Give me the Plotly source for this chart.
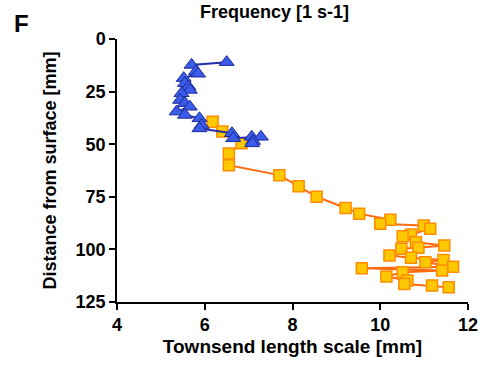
import plotly.graph_objects as go

# Blue series (triangles)
blue_x = [6.5, 5.7, 5.8, 5.85, 5.52, 5.55, 5.63, 5.66, 5.47, 5.44, 5.55, 5.66, 5.36, 5.55, 5.88, 5.93, 5.88, 6.62, 6.65, 7.07, 7.28, 7.1, 7.08]
blue_y = [11, 12.3, 15.4, 16.5, 18.6, 21, 22.6, 24.2, 25.8, 29, 30.5, 32.2, 34.5, 36.1, 37.7, 40.9, 42.5, 44.8, 47.2, 46.5, 46.5, 48.5, 49.6]

# Orange series (squares)
orange_x = [6.18, 6.4, 6.84, 6.55, 6.55, 7.7, 8.14, 8.55, 9.21, 9.52, 10.23, 10.0, 10.99, 11.14, 10.7, 10.51, 10.81, 11.46, 10.87, 10.48, 10.21, 10.7, 11.44, 11.03, 11.66, 9.58, 11.41, 10.51, 10.14, 10.62, 10.55, 11.18, 11.56]
orange_y = [39.3, 44, 49.6, 54.4, 60, 64.7, 70, 75, 80.3, 83, 85.9, 87.8, 88.6, 90.2, 92.9, 93.8, 96.6, 98.1, 99.2, 99.7, 102.9, 104, 105, 106.1, 108.2, 109, 110, 110.9, 112.9, 114.8, 116.4, 117.2, 118]

x_ticks = [4, 6, 8, 10, 12]
y_ticks = [0, 25, 50, 75, 100, 125]

FONT = "Arial, Liberation Sans, sans-serif"

fig = go.Figure()
fig.add_trace(go.Scatter(
    x=orange_x, y=orange_y, mode="lines+markers",
    line=dict(color="#FF6A10", width=2),
    marker=dict(symbol="square", size=11, color="#FFC800",
                line=dict(color="#FF8C00", width=1.5)),
    showlegend=False, cliponaxis=False))
fig.add_trace(go.Scatter(
    x=blue_x, y=blue_y, mode="lines+markers",
    line=dict(color="#2430A8", width=2),
    marker=dict(symbol="triangle-up", size=13, color="#3A5CE8",
                line=dict(color="#1C2A9C", width=1)),
    showlegend=False, cliponaxis=False))

fig.update_layout(
    width=490, height=367,
    margin=dict(l=117, r=14, t=39, b=65),
    plot_bgcolor="white", paper_bgcolor="white",
    font=dict(family=FONT, size=18, color="black"),
    xaxis=dict(range=[4, 12], tickvals=x_ticks, ticktext=[f"<b>{v}</b>" for v in x_ticks],
               showgrid=False, zeroline=False, showline=True, linecolor="black", linewidth=1.5,
               ticks="outside", ticklen=6, tickwidth=1.5, tickcolor="black",
               tickfont=dict(size=18),
               title=dict(text="<b>Townsend length scale [mm]</b>", font=dict(size=19), standoff=5)),
    yaxis=dict(range=[125, 0], tickvals=y_ticks, ticktext=[f"<b>{v}</b>" for v in y_ticks],
               showgrid=False, zeroline=False, showline=True, linecolor="black", linewidth=1.5,
               ticks="outside", ticklen=6, tickwidth=1.5, tickcolor="black",
               tickfont=dict(size=18),
               title=dict(text="<b>Distance from surface [mm]</b>", font=dict(size=18), standoff=14)),
    annotations=[
        dict(text="<b>F</b>", xref="paper", yref="paper", x=-0.298, y=1.059,
             xanchor="left", yanchor="middle", showarrow=False, font=dict(size=24)),
        dict(text="<b>Frequency [1 s-1]</b>", xref="paper", yref="paper", x=0.45, y=1.148,
             xanchor="center", yanchor="top", showarrow=False, font=dict(size=18)),
    ],
)

fig.write_html("out.html")
